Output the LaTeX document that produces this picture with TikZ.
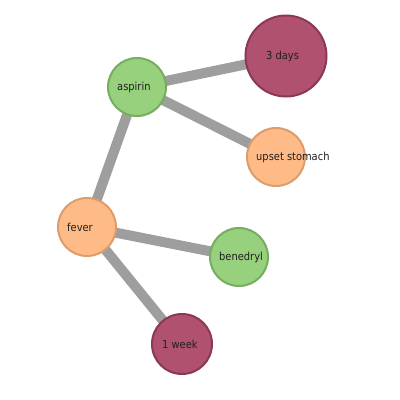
\documentclass[tikz,border=0pt]{standalone}
\usepackage{fontspec}
\setmainfont{DejaVu Sans Condensed}
\begin{document}
\begin{tikzpicture}[x=1pt,y=-1pt,
  link/.style={draw=black!40,line width=10pt,opacity=0.95},
  nd/.style={circle,line width=2pt,inner sep=0pt},
  grn/.style={nd,fill=green1,draw=green2,minimum size=58pt},
  org/.style={nd,fill=orange1,draw=orange2,minimum size=58pt},
  mar/.style={nd,fill=maroon1,draw=maroon2},
  lbl/.style={anchor=west,font=\fontsize{11}{13}\selectfont,text=black!88,inner sep=0pt}]
\definecolor{green1}{HTML}{98D17E}
\definecolor{green2}{HTML}{76AD5E}
\definecolor{orange1}{HTML}{FFBB87}
\definecolor{orange2}{HTML}{DE9C6C}
\definecolor{maroon1}{HTML}{B0526F}
\definecolor{maroon2}{HTML}{8A3853}
\useasboundingbox (0,0) rectangle (400,400);
\fill[white] (0,0) rectangle (400,400);
\coordinate (ca) at (137,87);
\coordinate (cd) at (286,56);
\coordinate (cu) at (276,157);
\coordinate (cf) at (87,227);
\coordinate (cb) at (239,257);
\coordinate (cw) at (182,344);
\draw[link] (ca) -- (cd);
\draw[link] (ca) -- (cu);
\draw[link] (ca) -- (cf);
\draw[link] (cf) -- (cb);
\draw[link] (cf) -- (cw);
\node[grn] (aspirin) at (ca) {};
\node[mar,minimum size=81pt] (days) at (cd) {};
\node[org] (upset) at (cu) {};
\node[org] (fever) at (cf) {};
\node[grn] (benedryl) at (cb) {};
\node[mar,minimum size=60pt] (week) at (cw) {};
\node[lbl] (taspirin) at ([xshift=-20pt]ca) {aspirin};
\node[lbl] (tdays) at ([xshift=-20pt]cd) {3 days};
\node[lbl] (tupset) at ([xshift=-20pt]cu) {upset stomach};
\node[lbl] (tfever) at ([xshift=-20pt]cf) {fever};
\node[lbl] (tbenedryl) at ([xshift=-20pt]cb) {benedryl};
\node[lbl] (tweek) at ([xshift=-20pt]cw) {1 week};
\end{tikzpicture}
\end{document}
